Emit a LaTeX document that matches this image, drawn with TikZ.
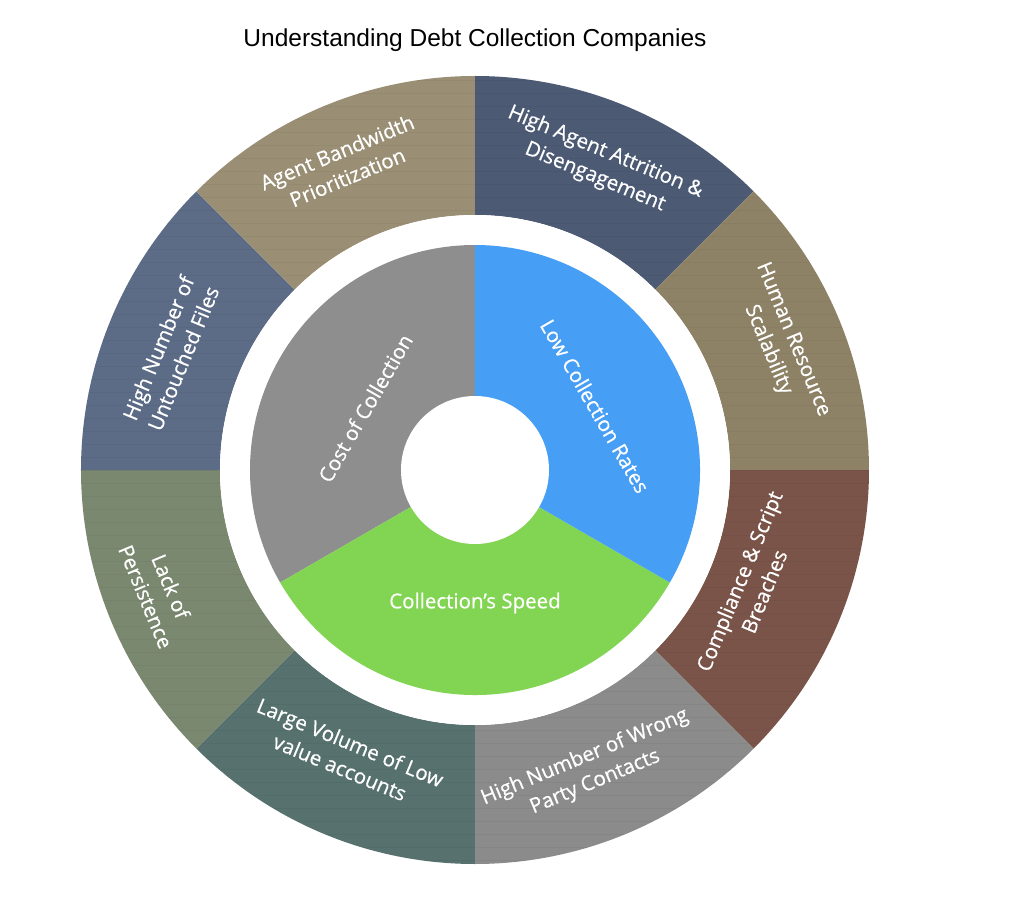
\documentclass[tikz,border=0pt]{standalone}
\usepackage{fontspec}
\setmainfont{Open Sans}
\newfontfamily\lblfont{Open Sans}[FakeBold=0.6]
\newfontfamily\titlefont{Liberation Sans}
\usetikzlibrary{positioning}
\definecolor{SlateDark}{HTML}{4C5A74}
\definecolor{KhakiDark}{HTML}{8E8266}
\definecolor{Brick}{HTML}{7A5449}
\definecolor{Ash}{HTML}{8B8B8B}
\definecolor{Teal}{HTML}{56716E}
\definecolor{Olive}{HTML}{7B8870}
\definecolor{SlateLight}{HTML}{5C6B86}
\definecolor{KhakiLight}{HTML}{9A8F74}
\definecolor{PieGray}{HTML}{8E8E8E}
\definecolor{PieBlue}{HTML}{469EF5}
\definecolor{PieGreen}{HTML}{82D552}

\begin{document}
\begin{tikzpicture}[
  x=1pt,y=1pt,
  every node/.style={align=center},
  outerlbl/.style={text=white,font=\lblfont\fontsize{20.5}{27}\selectfont},
  innerlbl/.style={text=white,font=\lblfont\fontsize{20.5}{25}\selectfont},
  grain/.style={black,opacity=0.04,line width=0.8pt}
]
  \useasboundingbox (-475,-438) rectangle (535,470);
  \node[font=\titlefont\fontsize{24.5}{28}\selectfont] (title) at (0,430) {Understanding Debt Collection Companies};
  % outer ring
  \foreach \a/\col in {90/SlateDark,45/KhakiDark,0/Brick,-45/Ash,-90/Teal,-135/Olive,180/SlateLight,135/KhakiLight}
    \fill[\col] (\a:394) arc[start angle=\a,delta angle=-45,radius=394] -- ({\a-45}:255)
      arc[start angle=\a-45,delta angle=45,radius=255] -- cycle;
  \begin{scope}
    \clip (0,0) circle (394);
    \foreach \y in {-390,-377,...,390}
      \draw[grain] (-394,\y) -- (394,\y);
  \end{scope}
  \fill[white] (0,0) circle (255);
  % inner pie
  \fill[PieGray] (0,0) -- (90:225) arc[start angle=90,end angle=210,radius=225] -- cycle;
  \fill[PieGreen] (0,0) -- (210:225) arc[start angle=210,end angle=330,radius=225] -- cycle;
  \fill[PieBlue] (0,0) -- (-30:225) arc[start angle=-30,end angle=90,radius=225] -- cycle;
  \fill[white] (0,0) circle (74);
  % labels
  \node[outerlbl,rotate=22.5] (bandwidth) at (113.5:333) {Agent Bandwidth\\Prioritization};
  \node[outerlbl,rotate=-22.5] (attrition) at (67.7:330) {High Agent Attrition \&\\Disengagement};
  \node[outerlbl,rotate=-67.5] (scale) at (22.3:330) {Human Resource\\Scalability};
  \node[outerlbl,rotate=67.5] (breach) at (-22.8:300) {Compliance \& Script\\Breaches};
  \node[outerlbl,rotate=22.5] (wrongparty) at (-69:321) {High Number of Wrong\\Party Contacts};
  \node[outerlbl,rotate=-22.5] (lowvalue) at (-114.5:313) {Large Volume of Low\\value accounts};
  \node[outerlbl,rotate=-67.5] (persist) at (-159:339) {Lack of\\Persistence};
  \node[outerlbl,rotate=67.5] (untouched) at (159:326) {High Number of\\Untouched Files};
  \node[innerlbl,rotate=60] (cost) at (150.6:126) {Cost of Collection};
  \node[innerlbl,rotate=-60] (rates) at (28:136) {Low Collection Rates};
  \node[innerlbl] (speed) at (-90:133) {Collection’s Speed};
\end{tikzpicture}
\end{document}
